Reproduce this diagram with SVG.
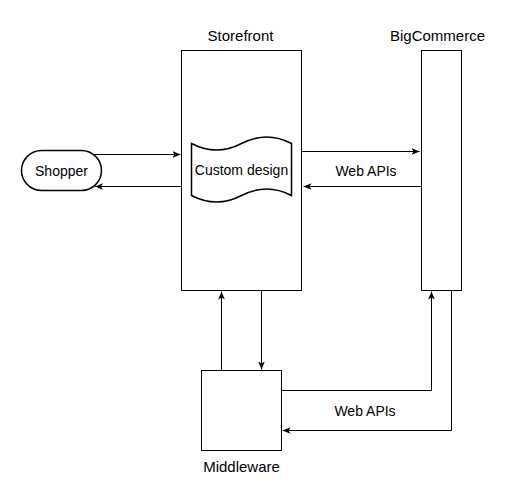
<svg xmlns="http://www.w3.org/2000/svg" width="531" height="500" viewBox="0 0 531 500">
  <defs>
    <marker id="arr" viewBox="0 0 10 10" refX="10" refY="5" markerWidth="8" markerHeight="8" markerUnits="userSpaceOnUse" orient="auto">
      <path d="M0,0.8 L10,5 L0,9.2 L2.6,5 Z" fill="#000"/>
    </marker>
  </defs>
  <style>
    .box { fill: #fff; stroke: #000; stroke-width: 1; }
    .thick { stroke-width: 1.5; }
    .edge { fill: none; stroke: #000; stroke-width: 1; marker-end: url(#arr); }
    .txt { font-family: "Liberation Sans", Arial, sans-serif; font-size: 14px; fill: #000; text-anchor: middle; }
    .lbl { font-family: "Liberation Sans", Arial, sans-serif; font-size: 15px; fill: #000; text-anchor: middle; }
  </style>
  <rect width="531" height="500" fill="#fff"/>
  <g id="storefront">
    <rect class="box" x="181.5" y="50.5" width="120" height="240"/>
    <text class="lbl" x="240.5" y="40.5">Storefront</text>
  </g>
  <g id="bigcommerce">
    <rect class="box" x="421.5" y="50.5" width="40" height="240"/>
    <text class="lbl" x="437.5" y="40.5">BigCommerce</text>
  </g>
  <g id="custom-design">
    <path class="box thick" d="M191.5,143.5 Q216.5,156.5 241.5,143.5 Q266.5,130.5 291.5,143.5 L291.5,195.5 Q266.5,182.5 241.5,195.5 Q216.5,208.5 191.5,195.5 Z"/>
    <text class="txt" x="241.5" y="175">Custom design</text>
  </g>
  <g id="shopper">
    <rect class="box thick" x="21.5" y="150.5" width="80" height="40" rx="20" ry="20"/>
    <text class="txt" x="61.5" y="175.5">Shopper</text>
  </g>
  <g id="middleware">
    <rect class="box" x="201.5" y="370.5" width="80" height="80"/>
    <text class="lbl" x="241.5" y="472">Middleware</text>
  </g>
  <g id="connectors">
    <path class="edge" d="M94,154.5 H180.5"/>
    <path class="edge" d="M181.5,186.5 H95"/>
    <path class="edge" d="M301.5,151.5 H419.5"/>
    <path class="edge" d="M421.5,186.5 H303.5"/>
    <path class="edge" d="M221.5,370.5 V291.5"/>
    <path class="edge" d="M261.5,290.5 V369.5"/>
    <path class="edge" d="M281.5,390.5 H431.5 V291.5"/>
    <path class="edge" d="M451.5,290.5 V430.5 H282.5"/>
    <text class="txt" x="366" y="175.5">Web APIs</text>
    <text class="txt" x="365" y="415.5">Web APIs</text>
  </g>
</svg>
